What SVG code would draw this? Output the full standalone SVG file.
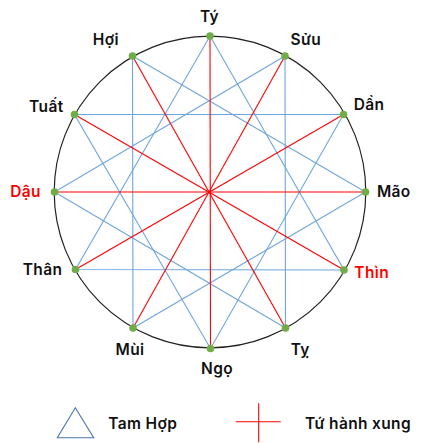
<svg xmlns="http://www.w3.org/2000/svg" width="421" height="443" viewBox="0 0 421 443">
<style>
.lbl{font-family:Inter,"Liberation Sans",sans-serif;font-weight:600;font-size:15.5px;letter-spacing:0.35px;fill:#111;text-anchor:middle}
.red{fill:#ff0000}
.leg{text-anchor:start}
.th{stroke:#6fa5dc;stroke-width:1.1;fill:none}
.xung{stroke:#ff0000;stroke-width:1.1;fill:none}
.dot{fill:#70ad47}
</style>
<rect width="421" height="443" fill="#fff"/>
<circle cx="210" cy="192" r="155.8" fill="none" stroke="#222" stroke-width="1.2"/>
<g id="connectors">
<g id="tam-hop">
<polygon class="th" points="210,36 344,270 75.5,269.5"/>
<polygon class="th" points="285,56 285.5,328 54.5,192"/>
<polygon class="th" points="343.5,114.5 210.5,348.5 74.5,114.5"/>
<polygon class="th" points="132.5,56 365.5,192 133,328"/>
</g>
<g id="tu-hanh-xung">
<line class="xung" x1="210" y1="36" x2="210.5" y2="348.5"/>
<line class="xung" x1="54.5" y1="192" x2="365.5" y2="192"/>
<line class="xung" x1="132.5" y1="56" x2="285.5" y2="328"/>
<line class="xung" x1="285" y1="56" x2="133" y2="328"/>
<line class="xung" x1="74.5" y1="114.5" x2="344" y2="270"/>
<line class="xung" x1="343.5" y1="114.5" x2="75.5" y2="269.5"/>
</g>
</g>
<g id="ty"><circle class="dot" cx="210" cy="36" r="3.8"/><text class="lbl" x="209.5" y="21.5">Tý</text></g>
<g id="suu"><circle class="dot" cx="285" cy="56" r="3.8"/><text class="lbl" x="305.8" y="45">Sửu</text></g>
<g id="dan"><circle class="dot" cx="343.5" cy="114.5" r="3.8"/><text class="lbl" x="369" y="110">Dần</text></g>
<g id="mao"><circle class="dot" cx="365.5" cy="192" r="3.8"/><text class="lbl" x="393.8" y="197">Mão</text></g>
<g id="thin"><circle class="dot" cx="344" cy="270" r="3.8"/><text class="lbl red" x="371.7" y="277.5">Thìn</text></g>
<g id="ti"><circle class="dot" cx="285.5" cy="328" r="3.8"/><text class="lbl" x="300.3" y="355">Tỵ</text></g>
<g id="ngo"><circle class="dot" cx="210.5" cy="348.5" r="3.8"/><text class="lbl" x="217" y="374">Ngọ</text></g>
<g id="mui"><circle class="dot" cx="133" cy="328" r="3.8"/><text class="lbl" x="130" y="355">Mùi</text></g>
<g id="than"><circle class="dot" cx="75.5" cy="269.5" r="3.8"/><text class="lbl" x="42.5" y="275">Thân</text></g>
<g id="dau"><circle class="dot" cx="54.5" cy="192" r="3.8"/><text class="lbl red" x="25.5" y="197">Dậu</text></g>
<g id="tuat"><circle class="dot" cx="74.5" cy="114.5" r="3.8"/><text class="lbl" x="46.3" y="111.5">Tuất</text></g>
<g id="hoi"><circle class="dot" cx="132.5" cy="56" r="3.8"/><text class="lbl" x="105.8" y="45">Hợi</text></g>
<g id="legend">
<polygon points="75.3,407.7 93.7,437.7 57.3,437.7" fill="none" stroke="#4a78a8" stroke-width="1.1"/>
<text class="lbl leg" x="108.3" y="428.5">Tam Hợp</text>
<line x1="235.7" y1="421.7" x2="280.7" y2="421.7" stroke="#ff0000" stroke-width="1.1"/>
<line x1="258.7" y1="403.3" x2="258.7" y2="442.3" stroke="#ff0000" stroke-width="1.1"/>
<text class="lbl leg" x="305" y="428.5">Tứ hành xung</text>
</g>
</svg>
